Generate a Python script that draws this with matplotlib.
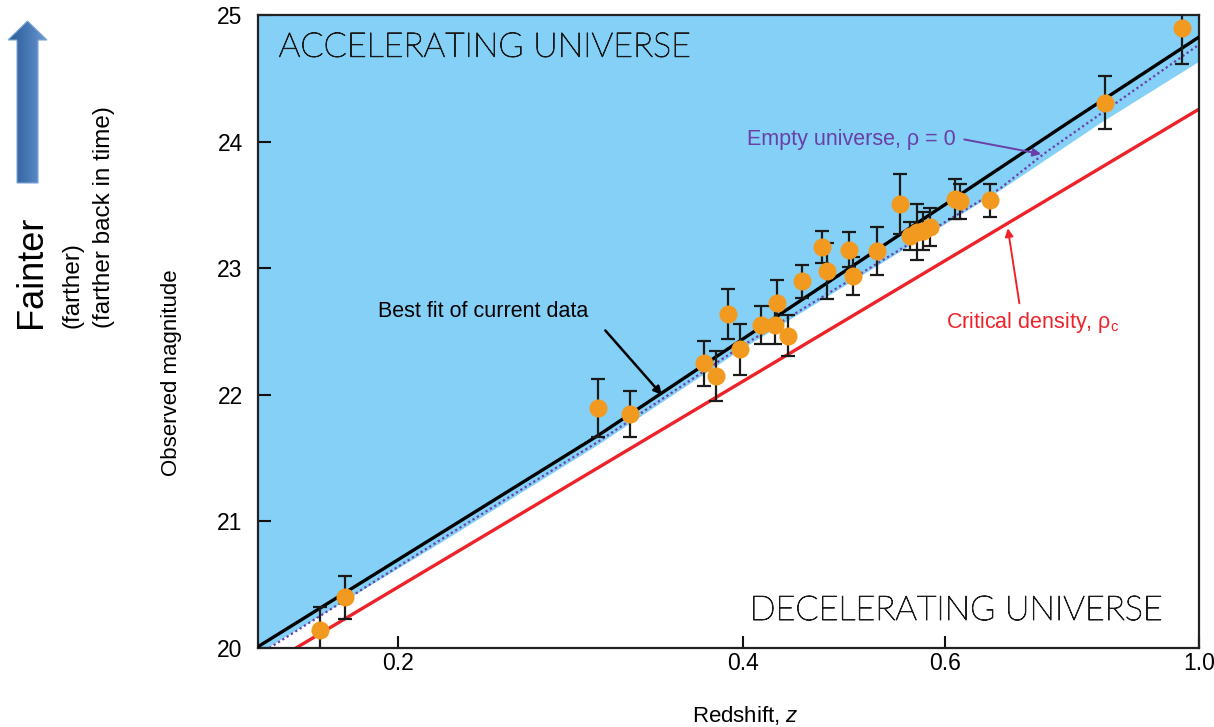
import numpy as np
import matplotlib
matplotlib.use("Agg")
import matplotlib.pyplot as plt
import matplotlib.patheffects as pe
from matplotlib.patches import FancyArrow
from matplotlib.ticker import NullLocator, FixedLocator, FixedFormatter

plt.rcParams['font.family'] = ['Liberation Sans', 'DejaVu Sans']
plt.rcParams['mathtext.fontset'] = 'custom'
plt.rcParams['mathtext.rm'] = 'Liberation Sans'
plt.rcParams['mathtext.it'] = 'Liberation Sans:italic'

# ----------------------------------
# Data
# ----------------------------------
z_data = [0.171, 0.180, 0.299, 0.319, 0.370, 0.379, 0.388, 0.398, 0.415, 0.428,
          0.427, 0.438, 0.450, 0.469, 0.474, 0.495, 0.499, 0.524, 0.548, 0.559,
          0.568, 0.574, 0.582, 0.613, 0.619, 0.657, 0.828, 0.967]
m_data = [20.14, 20.40, 21.90, 21.85, 22.25, 22.15, 22.64, 22.36, 22.55, 22.73,
          22.55, 22.47, 22.90, 23.17, 22.98, 23.15, 22.94, 23.14, 23.51, 23.26,
          23.29, 23.30, 23.33, 23.55, 23.53, 23.54, 24.31, 24.90]
m_err = [0.18, 0.17, 0.23, 0.18, 0.18, 0.20, 0.20, 0.20, 0.15, 0.18,
         0.15, 0.16, 0.13, 0.13, 0.22, 0.14, 0.15, 0.19, 0.24, 0.11,
         0.22, 0.15, 0.15, 0.16, 0.14, 0.13, 0.21, 0.28]

# model curves
z_best = [0.151, 0.299, 0.398, 0.771, 1.0]
m_best = [20.01, 21.68, 22.43, 24.16, 24.83]
z_empty = [0.1545, 0.221, 0.299, 0.398, 0.67, 0.733, 1.0]
m_empty = [20.0, 20.89, 21.63, 22.38, 23.63, 23.91, 24.77]
z_fill = [0.151, 0.221, 0.299, 0.398, 0.67, 0.819, 1.0]
m_fill = [19.96, 20.87, 21.61, 22.36, 23.62, 24.15, 24.64]
z_crit = [0.163, 1.0]
m_crit = [20.0, 24.26]

x_ticks = [0.2, 0.4, 0.6, 1.0]
x_tick_labels = ["0.2", "0.4", "0.6", "1.0"]
y_ticks = [20, 21, 22, 23, 24, 25]

# ----------------------------------
# Figure
# ----------------------------------
fig = plt.figure(figsize=(12.14, 7.27), dpi=100)
ax = fig.add_axes([0.2125, 0.1087, 0.7752, 0.870])

ax.set_xscale('log')
ax.set_xlim(0.151, 1.0)
ax.set_ylim(20, 25)

blue = '#84D0F7'
ax.fill_between(z_fill, m_fill, 25, color=blue, lw=0, zorder=0)

ax.plot(z_crit, m_crit, color='#EE2229', lw=2.4, zorder=2)
ax.plot(z_empty, m_empty, color='#6A3FA6', lw=1.6, ls=(0, (1, 1.3)), zorder=2)
ax.plot(z_best, m_best, color='black', lw=2.4, zorder=3)

ax.errorbar(z_data, m_data, yerr=m_err, fmt='none', ecolor='#1a1a1a',
            elinewidth=1.6, capsize=5, capthick=1.6, zorder=4)
ax.plot(z_data, m_data, 'o', color='#F29A20', ms=13, mec='none', zorder=5)

# region labels (thin geometric font, slightly thickened)
thick = [pe.withStroke(linewidth=0.7, foreground='#1a1a1a')]
ax.text(0.022, 0.949, "ACCELERATING UNIVERSE", transform=ax.transAxes,
        family=['Lato', 'DejaVu Sans'], weight='light', fontsize=24.5,
        color='#1a1a1a', ha='left', va='center', zorder=6, path_effects=thick)
ax.text(0.962, 0.0585, "DECELERATING UNIVERSE", transform=ax.transAxes,
        family=['Lato', 'DejaVu Sans'], weight='light', fontsize=24.5,
        color='#1a1a1a', ha='right', va='center', zorder=6, path_effects=thick)

# annotations
ax.text(0.1921, 22.656, "Best fit of current data", fontsize=15.5,
        color='black', ha='left', va='center', zorder=6)
ax.annotate('', xy=(0.34, 22.0), xytext=(0.3034, 22.51),
            arrowprops=dict(arrowstyle='-|>', color='black', lw=1.8,
                            mutation_scale=12, shrinkA=0, shrinkB=0), zorder=6)

ax.text(0.403, 24.02, "Empty universe, ρ = 0", fontsize=15.5,
        color='#6A3FA6', ha='left', va='center', zorder=6)
ax.annotate('', xy=(0.728, 23.905), xytext=(0.624, 24.02),
            arrowprops=dict(arrowstyle='-|>', color='#6A3FA6', lw=1.4,
                            mutation_scale=12, shrinkA=0, shrinkB=0), zorder=6)

ax.text(0.602, 22.57, "Critical density, ρ$_\\mathregular{c}$", fontsize=15.5,
        color='#EE2229', ha='left', va='center', zorder=6)
ax.annotate('', xy=(0.681, 23.318), xytext=(0.697, 22.725),
            arrowprops=dict(arrowstyle='-|>', color='#EE2229', lw=1.4,
                            mutation_scale=12, shrinkA=0, shrinkB=0), zorder=6)

# axes styling
ax.xaxis.set_major_locator(FixedLocator(x_ticks))
ax.xaxis.set_major_formatter(FixedFormatter(x_tick_labels))
ax.xaxis.set_minor_locator(NullLocator())
ax.set_yticks(y_ticks)
ax.tick_params(direction='in', length=9, width=1.5, labelsize=16.5, pad=11,
               color='#111111')
ax.tick_params(axis='x', pad=3)
for s in ax.spines.values():
    s.set_linewidth(1.6)
    s.set_color('#222222')

ax.set_xlabel("Redshift, $\\it{z}$", fontsize=16)
ax.xaxis.set_label_coords(0.518, -0.088)
ax.set_ylabel("Observed magnitude", fontsize=16)
ax.yaxis.set_label_coords(-0.081, 0.435)

# left side labels
fig.text(0.026, 0.549, "Fainter", rotation=90, fontsize=26,
         ha='center', va='bottom')
fig.text(0.060, 0.549, "(farther)", rotation=90, fontsize=17.5,
         ha='center', va='bottom')
fig.text(0.086, 0.549, "(farther back in time)", rotation=90, fontsize=17.5,
         ha='center', va='bottom')

# gradient arrow (pixel coords overlay)
ov = fig.add_axes([0, 0, 1, 1], zorder=-1)
ov.set_xlim(0, 1214)
ov.set_ylim(727, 0)
ov.axis('off')
arrow = FancyArrow(27.5, 183, 0, -143, width=21, head_width=39,
                   head_length=19, length_includes_head=False,
                   fc='none', ec='#7fa6d6', lw=0.8)
ov.add_patch(arrow)
grad = np.linspace(0, 1, 64).reshape(1, -1)
cmap = matplotlib.colors.LinearSegmentedColormap.from_list(
    'arr', ['#2D5B93', '#4677B4', '#6C9AD2'])
im = ov.imshow(grad, cmap=cmap, extent=(8, 47, 183, 20), aspect='auto')
im.set_clip_path(arrow)

fig.savefig("out.png", dpi=100)
